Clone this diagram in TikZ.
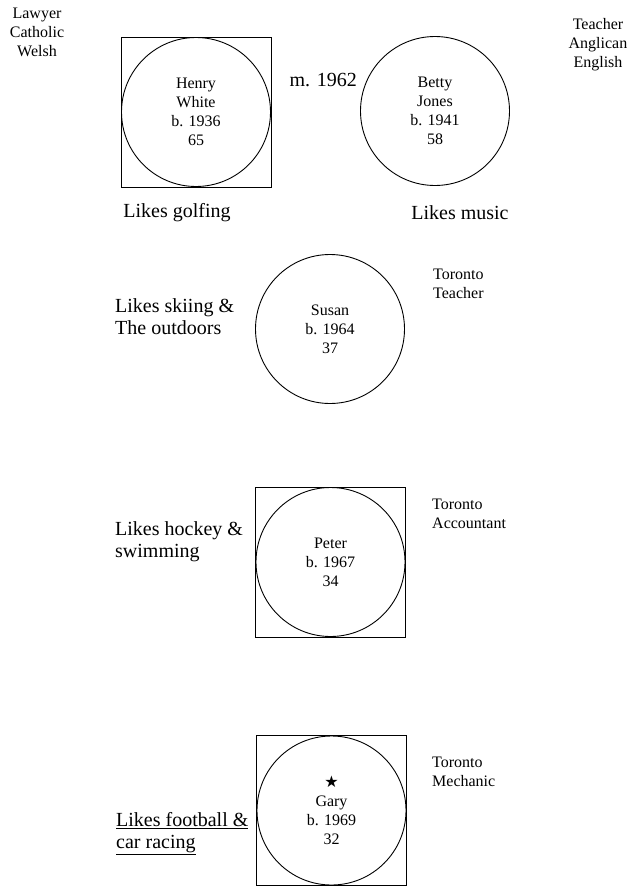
\documentclass[tikz,border=0pt]{standalone}
\usepackage{fontspec}
\setmainfont{Liberation Serif}
\newfontfamily\starfont{DejaVu Sans}
\usetikzlibrary{positioning,fit}
\newcommand{\smalltext}{\fontsize{16}{19}\selectfont}
\newcommand{\bigtext}{\fontsize{20}{22}\selectfont}
\tikzset{
  person/.style={
    circle, draw, line width=0.9pt, minimum size=149pt,
    inner sep=0pt, align=center, font=\smalltext,
    execute at begin node={\vspace*{9pt}}
  },
  malebox/.style={rectangle, draw, line width=0.8pt, inner sep=0pt},
  infonote/.style={align=center, font=\smalltext, inner sep=0pt},
  hobby/.style={align=left, font=\bigtext, inner sep=0pt},
}
\begin{document}
\begin{tikzpicture}[x=1pt,y=-1pt]
  \useasboundingbox (0,0) rectangle (629,886);

  % parents
  \node[person] (henry) at (196,112) {Henry\\White\\b. 1936\\65};
  \node[malebox, fit=(henry)] (henrybox) {};
  \node[person] (betty) at (435,111) {Betty\\Jones\\b. 1941\\58};
  \node[infonote] (henrynote) at (37,32) {Lawyer\\Catholic\\Welsh};
  \node[infonote] (bettynote) at (598,45) {Teacher\\Anglican\\English};
  \node[font=\bigtext, inner sep=0pt, anchor=east] (married) at (357,80) {m. 1962};
  \node[font=\bigtext, inner sep=0pt] (henryhobby) at (177,213) {Likes golfing};
  \node[font=\bigtext, inner sep=0pt] (bettyhobby) at (460,213) {Likes music};

  % children
  \node[person] (susan) at (330,329) {Susan\\b. 1964\\37};
  \node[infonote, align=left, anchor=west] (susannote) at (433,284) {Toronto\\Teacher};
  \node[hobby, anchor=west] (susanhobby) at (115,317) {Likes skiing \&\\The outdoors};

  \node[person] (peter) at (330.5,562) {Peter\\b. 1967\\34};
  \node[malebox, fit=(peter)] (peterbox) {};
  \node[infonote, align=left, anchor=west] (peternote) at (432,514) {Toronto\\Accountant};
  \node[hobby, anchor=west] (peterhobby) at (115,542) {Likes hockey \&\\swimming};

  \node[person] (gary) at (331.5,810.5) {{\starfont\fontsize{16}{17}\selectfont ★}\\Gary\\b. 1969\\32};
  \node[malebox, fit=(gary)] (garybox) {};
  \node[infonote, align=left, anchor=west] (garynote) at (432,772) {Toronto\\Mechanic};
  \node[hobby, anchor=west] (garyhobby) at (116,834) {\underline{Likes football \&}\\\underline{car racing}};
\end{tikzpicture}
\end{document}
